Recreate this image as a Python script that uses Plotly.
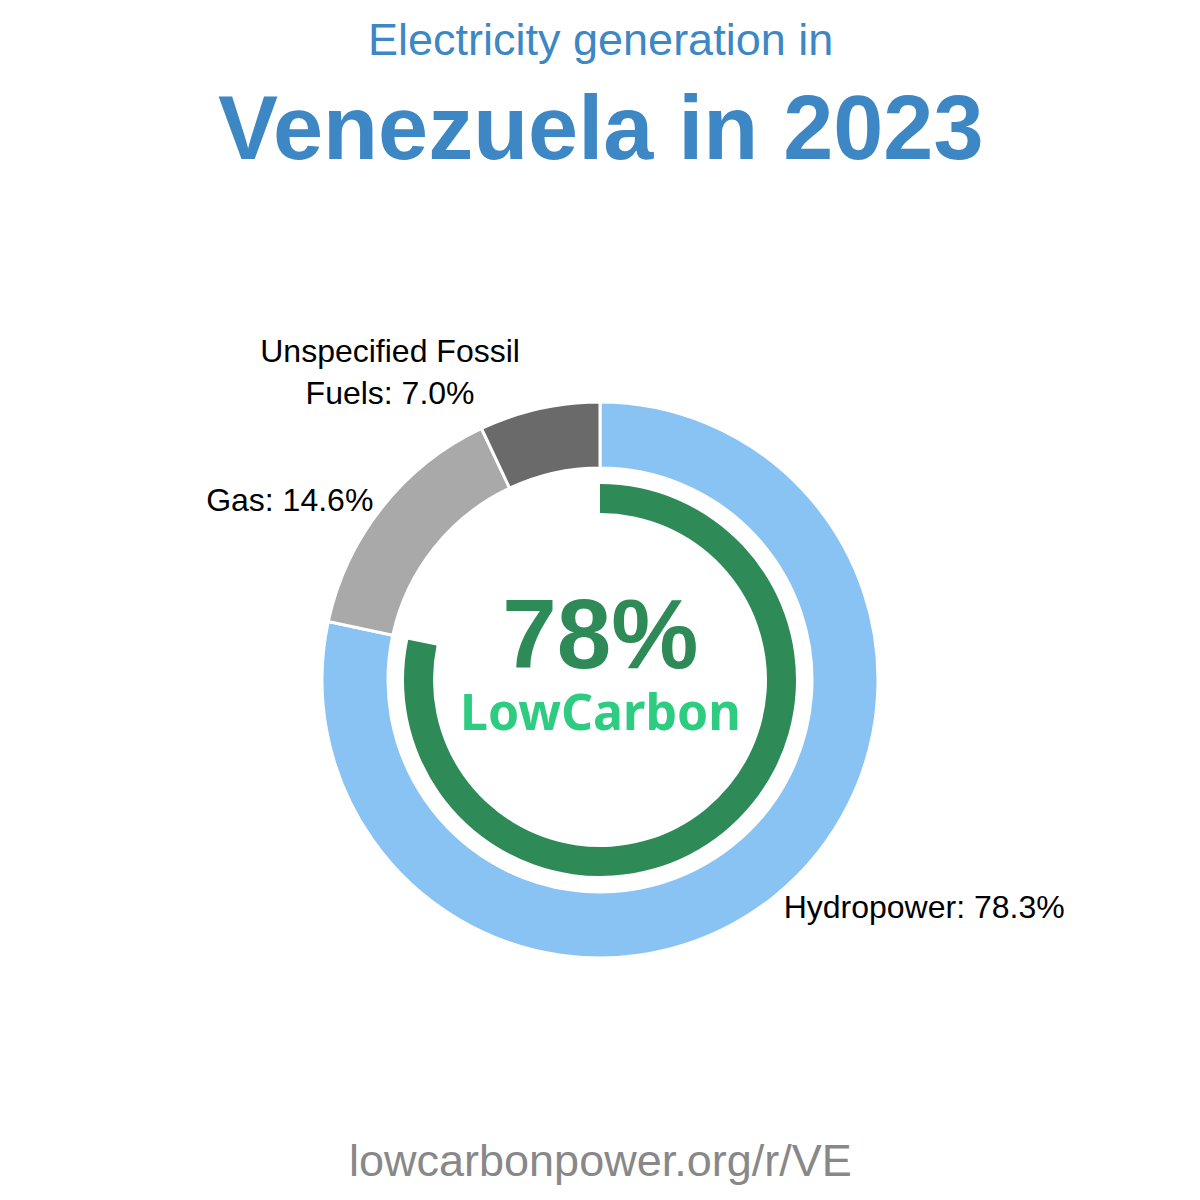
import plotly.graph_objects as go

# ---- data ----
sources = ["Hydropower", "Gas", "Unspecified Fossil Fuels"]
source_labels = ["Hydropower", "Gas", "Unspecified Fossil<br>Fuels"]
shares = [78.3, 14.6, 7.0]
source_colors = ["#89C3F3", "#A9A9A9", "#6A6A6A"]
low_carbon_share = 78.3
country = "Venezuela"
year = 2023
footer_url = "lowcarbonpower.org/r/VE"

W = H = 1200
cx, cy = 600, 680
R_out, R_in = 278, 212
G_out, G_in = 196, 167


def dom(r):
    return dict(
        x=[(cx - r) / W, (cx + r) / W],
        y=[(H - cy - r) / H, (H - cy + r) / H],
    )


fig = go.Figure()

fig.add_trace(go.Pie(
    labels=source_labels,
    values=shares,
    sort=False,
    direction="clockwise",
    rotation=0,
    hole=R_in / R_out,
    domain=dom(R_out),
    marker=dict(colors=source_colors, line=dict(color="white", width=3)),
    texttemplate="%{label}: %{value:.1f}%",
    textposition="outside",
    outsidetextfont=dict(family="Liberation Sans, Arial, sans-serif", size=32, color="black"),
    hoverinfo="skip",
    showlegend=False,
    automargin=False,
))

fig.add_trace(go.Pie(
    labels=["Low carbon", "Other"],
    values=[low_carbon_share, 100 - low_carbon_share],
    sort=False,
    direction="clockwise",
    rotation=0,
    hole=G_in / G_out,
    domain=dom(G_out),
    marker=dict(colors=["#2E8B57", "rgba(0,0,0,0)"], line=dict(width=0)),
    textinfo="none",
    hoverinfo="skip",
    showlegend=False,
))

fig.add_annotation(
    text="Electricity generation in", x=0.5, y=(H - 40) / H, xref="paper", yref="paper",
    showarrow=False, xanchor="center", yanchor="middle",
    font=dict(family="Liberation Sans, Arial, sans-serif", size=45, color="#3D87C4"),
)
fig.add_annotation(
    text=f"<b>{country} in {year}</b>", x=0.5, y=(H - 128) / H, xref="paper", yref="paper",
    showarrow=False, xanchor="center", yanchor="middle",
    font=dict(family="Liberation Sans, Arial, sans-serif", size=90, color="#3D87C4"),
)
center_text = (
    f"<span style='font-family:Liberation Sans, Arial, sans-serif;font-size:98px;color:#2E8B57'>"
    f"<b>{round(low_carbon_share)}%</b></span><br>"
    f"<span style='font-family:Noto Sans, sans-serif;font-size:50px;color:#2ECC80'><b>LowCarbon</b></span>"
)
fig.add_annotation(
    text=center_text, x=0.5, y=(H - 662) / H, xref="paper", yref="paper",
    showarrow=False, xanchor="center", yanchor="middle",
    font=dict(family="Noto Sans, sans-serif", size=48, color="#2ECC80"),
)
fig.add_annotation(
    text=footer_url, x=0.5, y=(H - 1160) / H, xref="paper", yref="paper",
    showarrow=False, xanchor="center", yanchor="middle",
    font=dict(family="Liberation Sans, Arial, sans-serif", size=45, color="#888888"),
)

fig.update_layout(
    width=W, height=H,
    margin=dict(l=0, r=0, t=0, b=0),
    paper_bgcolor="white", plot_bgcolor="white",
)

fig.write_html("out.html")
